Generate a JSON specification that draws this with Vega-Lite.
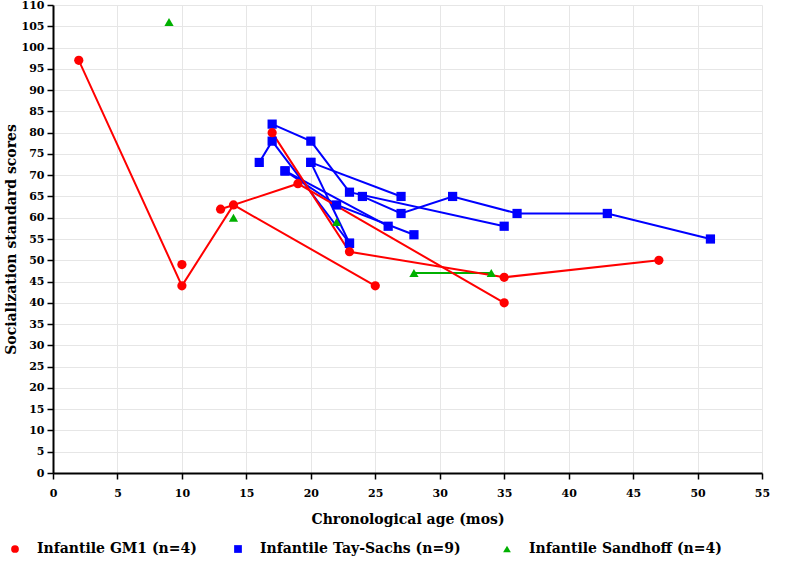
{
  "$schema": "https://vega.github.io/schema/vega-lite/v6.json",
  "width": 709,
  "height": 468,
  "autosize": {"type": "none"},
  "padding": {"left": 53, "top": 5, "right": 38, "bottom": 95},
  "background": "white",
  "data": {
    "values": [
      {"group": "Infantile Sandhoff (n=4)", "patient": "S1", "age": 9, "score": 106},
      {"group": "Infantile Sandhoff (n=4)", "patient": "S2", "age": 14, "score": 60},
      {"group": "Infantile Sandhoff (n=4)", "patient": "S3", "age": 22, "score": 59},
      {"group": "Infantile Sandhoff (n=4)", "patient": "S4", "age": 28, "score": 47},
      {"group": "Infantile Sandhoff (n=4)", "patient": "S4", "age": 34, "score": 47},
      {"group": "Infantile Tay-Sachs  (n=9)", "patient": "T1", "age": 16, "score": 73},
      {"group": "Infantile Tay-Sachs  (n=9)", "patient": "T1", "age": 17, "score": 78},
      {"group": "Infantile Tay-Sachs  (n=9)", "patient": "T1", "age": 23, "score": 54},
      {"group": "Infantile Tay-Sachs  (n=9)", "patient": "T2", "age": 17, "score": 82},
      {"group": "Infantile Tay-Sachs  (n=9)", "patient": "T2", "age": 20, "score": 78},
      {"group": "Infantile Tay-Sachs  (n=9)", "patient": "T2", "age": 23, "score": 66},
      {"group": "Infantile Tay-Sachs  (n=9)", "patient": "T2", "age": 35, "score": 58},
      {"group": "Infantile Tay-Sachs  (n=9)", "patient": "T3", "age": 24, "score": 65},
      {"group": "Infantile Tay-Sachs  (n=9)", "patient": "T3", "age": 27, "score": 61},
      {"group": "Infantile Tay-Sachs  (n=9)", "patient": "T3", "age": 31, "score": 65},
      {"group": "Infantile Tay-Sachs  (n=9)", "patient": "T3", "age": 36, "score": 61},
      {"group": "Infantile Tay-Sachs  (n=9)", "patient": "T3", "age": 43, "score": 61},
      {"group": "Infantile Tay-Sachs  (n=9)", "patient": "T3", "age": 51, "score": 55},
      {"group": "Infantile Tay-Sachs  (n=9)", "patient": "T4", "age": 20, "score": 73},
      {"group": "Infantile Tay-Sachs  (n=9)", "patient": "T4", "age": 27, "score": 65},
      {"group": "Infantile Tay-Sachs  (n=9)", "patient": "T5", "age": 20, "score": 73},
      {"group": "Infantile Tay-Sachs  (n=9)", "patient": "T5", "age": 23, "score": 54},
      {"group": "Infantile Tay-Sachs  (n=9)", "patient": "T6", "age": 18, "score": 71},
      {"group": "Infantile Tay-Sachs  (n=9)", "patient": "T6", "age": 26, "score": 58},
      {"group": "Infantile Tay-Sachs  (n=9)", "patient": "T7", "age": 18, "score": 71},
      {"group": "Infantile Tay-Sachs  (n=9)", "patient": "T7", "age": 22, "score": 63},
      {"group": "Infantile Tay-Sachs  (n=9)", "patient": "T7", "age": 28, "score": 56},
      {"group": "Infantile GM1 (n=4)", "patient": "G1", "age": 2, "score": 97},
      {"group": "Infantile GM1 (n=4)", "patient": "G1", "age": 10, "score": 44},
      {"group": "Infantile GM1 (n=4)", "patient": "G1", "age": 14, "score": 63},
      {"group": "Infantile GM1 (n=4)", "patient": "G1", "age": 25, "score": 44},
      {"group": "Infantile GM1 (n=4)", "patient": "G2", "age": 13, "score": 62},
      {"group": "Infantile GM1 (n=4)", "patient": "G2", "age": 19, "score": 68},
      {"group": "Infantile GM1 (n=4)", "patient": "G2", "age": 35, "score": 40},
      {"group": "Infantile GM1 (n=4)", "patient": "G3", "age": 17, "score": 80},
      {"group": "Infantile GM1 (n=4)", "patient": "G3", "age": 23, "score": 52},
      {"group": "Infantile GM1 (n=4)", "patient": "G3", "age": 35, "score": 46},
      {"group": "Infantile GM1 (n=4)", "patient": "G3", "age": 47, "score": 50},
      {"group": "Infantile GM1 (n=4)", "patient": "G4", "age": 10, "score": 49}
    ]
  },
  "encoding": {
    "x": {
      "field": "age", "type": "quantitative",
      "scale": {"domain": [0, 55], "nice": false},
      "axis": {
        "title": "Chronological age (mos)",
        "values": [0, 5, 10, 15, 20, 25, 30, 35, 40, 45, 50, 55],
        "labelPadding": 8, "titlePadding": 14
      }
    },
    "y": {
      "field": "score", "type": "quantitative",
      "scale": {"domain": [0, 110], "nice": false},
      "axis": {
        "title": "Socialization standard scores",
        "values": [0, 5, 10, 15, 20, 25, 30, 35, 40, 45, 50, 55, 60, 65, 70, 75, 80, 85, 90, 95, 100, 105, 110],
        "labelPadding": 3, "titlePadding": 3
      }
    },
    "color": {
      "field": "group", "type": "nominal", "title": null,
      "scale": {
        "domain": ["Infantile GM1 (n=4)", "Infantile Tay-Sachs  (n=9)", "Infantile Sandhoff (n=4)"],
        "range": ["#ff0000", "#0000ff", "#00b000"]
      }
    }
  },
  "layer": [
    {
      "mark": {"type": "line", "strokeWidth": 2},
      "encoding": {
        "detail": {"field": "patient"}
      }
    },
    {
      "mark": {"type": "point", "filled": true, "opacity": 1},
      "encoding": {
        "shape": {
          "field": "group", "type": "nominal", "title": null,
          "scale": {
            "domain": ["Infantile GM1 (n=4)", "Infantile Tay-Sachs  (n=9)", "Infantile Sandhoff (n=4)"],
            "range": ["circle", "square", "triangle-up"]
          }
        },
        "size": {"value": 85}
      }
    }
  ],
  "config": {
    "view": {"stroke": null},
    "axis": {
      "labelFont": "DejaVu Serif",
      "labelFontWeight": "bold",
      "labelFontSize": 11,
      "labelColor": "#000000",
      "titleFont": "DejaVu Serif",
      "titleFontWeight": "bold",
      "titleFontSize": 14,
      "titleColor": "#000000",
      "domainColor": "#000000",
      "domainWidth": 2,
      "tickColor": "#000000",
      "tickWidth": 1.5,
      "tickSize": 6,
      "gridColor": "#e6e6e6",
      "gridWidth": 1,
      "labelFlush": false,
      "labelOverlap": false
    },
    "legend": {
      "orient": "none",
      "legendX": -45,
      "legendY": 537,
      "direction": "horizontal",
      "padding": 0,
      "labelFont": "DejaVu Serif",
      "labelFontWeight": "bold",
      "labelFontSize": 14,
      "labelColor": "#000000",
      "labelOffset": 15,
      "symbolSize": 60,
      "symbolStrokeWidth": 0,
      "columnPadding": 34,
      "labelLimit": 400
    }
  }
}
